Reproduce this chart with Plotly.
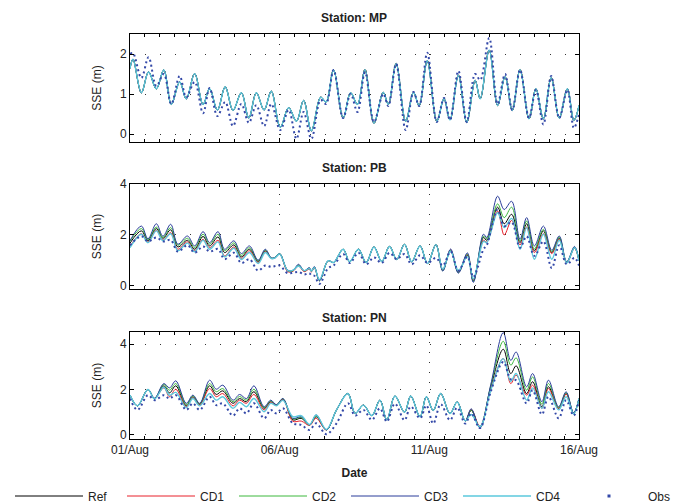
import plotly.graph_objects as go

# ---------------- data (time in days since 01/Aug 00:00) ----------------
tick_days = [0, 5, 10, 15]
tick_labels = ["01/Aug", "06/Aug", "11/Aug", "16/Aug"]
series_names = ["Ref", "CD1", "CD2", "CD3", "CD4"]

# Station MP (all model runs overlap)
mp_t = [0, 0.1, 0.38, 0.62, 0.88, 1.13, 1.38, 1.66, 1.88, 2.16, 2.44, 2.66, 2.92, 3.18, 3.44,
        3.72, 3.97, 4.22, 4.48, 4.72, 5.02, 5.30, 5.56, 5.80, 6.06, 6.37, 6.55, 6.80, 7.12,
        7.37, 7.60, 7.85, 8.15, 8.46, 8.63, 8.89, 9.21, 9.47, 9.66, 9.93, 10.25, 10.49, 10.69,
        10.97, 11.25, 11.53, 11.70, 12.0, 12.28, 12.53, 12.77, 13.03, 13.33, 13.56, 13.81,
        14.07, 14.34, 14.61, 14.83, 15.0]
mp_model = [1.64, 1.87, 1.03, 1.55, 1.13, 1.6, 0.74, 1.3, 0.88, 1.51, 0.74, 1.13, 0.6, 1.18, 0.59,
            1.03, 0.4, 1.03, 0.6, 1.07, 0.17, 0.66, 0.32, 0.84, 0.08, 0.92, 0.8, 1.6, 0.4,
            1.03, 0.74, 1.61, 0.27, 1.04, 0.74, 1.76, 0.32, 1.04, 0.71, 1.83, 0.32, 0.88, 0.35,
            1.47, 0.29, 1.34, 0.88, 2.1, 0.71, 1.43, 0.59, 1.61, 0.38, 1.13, 0.38,
            1.41, 0.4, 1.13, 0.34, 0.71]
mp_obs = [2.0, 2.02, 1.4, 1.92, 1.2, 1.5, 0.75, 1.45, 0.92, 1.3, 0.52, 1.15, 0.45, 0.8, 0.2,
          0.75, 0.28, 0.72, 0.2, 0.75, 0.1, 0.6, -0.12, 0.55, -0.12, 0.85, 0.75, 1.6, 0.4,
          1.0, 0.55, 1.55, 0.3, 1.0, 0.7, 1.75, 0.1, 1.05, 0.7, 2.03, 0.3, 0.9, 0.35,
          1.58, 0.3, 1.5, 1.35, 2.4, 0.75, 1.5, 0.6, 1.6, 0.4, 1.1, 0.24,
          1.45, 0.4, 1.1, 0.15, 0.5]

# Station PB
pb_t = [0, 0.38, 0.6, 0.88, 1.1, 1.36, 1.6, 1.92, 2.16, 2.44, 2.66, 2.94, 3.16, 3.47, 3.72,
        3.99, 4.28, 4.52, 4.72, 4.85, 5.0, 5.27, 5.45, 5.63, 5.82, 5.99, 6.06, 6.16, 6.33, 6.62,
        6.8, 7.12, 7.34, 7.63, 7.89, 8.15, 8.41, 8.67, 8.91, 9.17, 9.41, 9.69, 9.94, 10.22, 10.45,
        10.71, 10.97, 11.27, 11.47, 11.81, 11.92, 12.28, 12.5, 12.75, 13.03, 13.25, 13.51, 13.81,
        14.09, 14.34, 14.59, 14.85, 15.0]
pb_ref = [1.68, 2.16, 1.78, 2.25, 1.87, 2.2, 1.53, 1.79, 1.44, 1.94, 1.57, 1.92, 1.31, 1.61, 1.14,
          1.44, 0.96, 1.38, 1.09, 1.12, 1.27, 0.58, 0.6, 0.8, 0.58, 0.68, 0.57, 0.72, 0.21, 0.99,
          0.92, 1.44, 0.95, 1.44, 0.92, 1.53, 0.96, 1.55, 1.04, 1.63, 0.95, 1.57, 0.88, 1.62, 0.62,
          1.38, 0.54, 1.2, 0.2, 1.9, 1.79, 3.09, 2.44, 2.81, 1.7, 2.44, 1.38, 2.16,
          1.31, 1.87, 0.92, 1.5, 0.99]
pb_cd1 = [1.55, 2.05, 1.72, 2.18, 1.8, 2.09, 1.44, 1.73, 1.38, 1.83, 1.5, 1.79, 1.18, 1.53, 1.08,
          1.38, 0.92, 1.35, 1.08, 1.1, 1.25, 0.56, 0.58, 0.78, 0.56, 0.66, 0.55, 0.7, 0.22, 0.99,
          0.92, 1.44, 0.95, 1.44, 0.92, 1.53, 0.96, 1.55, 1.04, 1.63, 0.95, 1.57, 0.88, 1.62, 0.64,
          1.42, 0.56, 1.24, 0.24, 1.8, 1.72, 2.94, 2.0, 2.57, 1.61, 2.31, 1.31, 2.05,
          1.27, 1.83, 0.9, 1.48, 0.98]
pb_cd2 = [1.75, 2.25, 1.82, 2.31, 1.9, 2.29, 1.6, 1.87, 1.5, 2.03, 1.64, 2.03, 1.38, 1.69, 1.2,
          1.5, 0.98, 1.41, 1.09, 1.12, 1.27, 0.6, 0.6, 0.82, 0.59, 0.7, 0.58, 0.74, 0.2, 0.99,
          0.92, 1.44, 0.95, 1.44, 0.92, 1.53, 0.96, 1.55, 1.04, 1.63, 0.95, 1.57, 0.88, 1.62, 0.6,
          1.4, 0.53, 1.25, 0.18, 1.95, 1.85, 3.22, 2.68, 3.09, 1.76, 2.55, 1.45, 2.22,
          1.35, 1.92, 0.93, 1.52, 1.0]
pb_cd3 = [1.78, 2.35, 1.85, 2.44, 1.95, 2.42, 1.64, 1.96, 1.57, 2.13, 1.7, 2.13, 1.44, 1.77, 1.27,
          1.57, 1.01, 1.44, 1.1, 1.12, 1.27, 0.62, 0.62, 0.85, 0.6, 0.72, 0.6, 0.76, 0.2, 0.99,
          0.92, 1.44, 0.95, 1.44, 0.92, 1.53, 0.96, 1.55, 1.04, 1.63, 0.95, 1.57, 0.88, 1.62, 0.58,
          1.45, 0.5, 1.3, 0.14, 2.03, 1.9, 3.52, 3.0, 3.32, 1.83, 2.68, 1.57, 2.35,
          1.4, 1.96, 0.95, 1.55, 1.0]
pb_cd4 = [1.5, 2.03, 1.7, 2.16, 1.78, 2.05, 1.38, 1.68, 1.34, 1.79, 1.44, 1.73, 1.14, 1.48, 1.04,
          1.31, 0.88, 1.31, 1.07, 1.1, 1.25, 0.6, 0.62, 0.78, 0.6, 0.68, 0.58, 0.72, 0.25, 0.99,
          0.92, 1.44, 0.95, 1.44, 0.92, 1.53, 0.96, 1.55, 1.04, 1.63, 0.95, 1.57, 0.88, 1.62, 0.66,
          1.36, 0.6, 1.15, 0.28, 1.75, 1.7, 2.87, 2.29, 2.65, 1.44, 2.29, 1.05, 2.03,
          1.05, 1.79, 0.9, 1.5, 0.98]
pb_obs = [1.6, 1.95, 1.75, 1.9, 1.75, 1.8, 1.35, 1.6, 1.3, 1.55, 1.35, 1.45, 1.05, 1.3, 0.9,
          1.05, 0.6, 0.8, 0.75, 0.78, 0.8, 0.5, 0.52, 0.55, 0.45, 0.5, 0.42, 0.4, 0.08, 0.7,
          0.8, 1.25, 0.9, 1.3, 0.85, 1.12, 0.9, 1.3, 1.05, 1.25, 0.85, 1.2, 0.9, 1.1, 0.8,
          1.35, 0.6, 1.15, 0.35, 1.44, 1.6, 3.0, 2.35, 2.5, 1.5, 1.95, 1.18, 1.75,
          0.7, 1.6, 0.85, 1.1, 0.8]

# Station PN
pn_t = [0, 0.25, 0.6, 0.82, 1.13, 1.32, 1.53, 1.88, 2.1, 2.33, 2.66, 2.88, 3.1, 3.44, 3.66,
        3.89, 4.14, 4.48, 4.7, 4.89, 5.11, 5.44, 5.72, 6.0, 6.22, 6.56, 6.9, 7.28, 7.52, 7.8,
        8.08, 8.35, 8.58, 8.85, 9.17, 9.38, 9.69, 9.9, 10.13, 10.38, 10.69, 10.93, 11.2, 11.4,
        11.69, 12.05, 12.47, 12.72, 12.9, 13.25, 13.45, 13.76, 13.98, 14.32, 14.57, 14.82, 15.0]
pn_ref = [1.75, 1.28, 2.0, 1.6, 2.16, 1.85, 2.16, 1.28, 1.68, 1.34, 2.16, 1.78, 1.94, 1.39, 1.6,
          1.46, 1.9, 1.17, 1.46, 1.31, 1.58, 0.66, 0.73, 0.44, 0.8, 0.22, 1.1, 1.82, 0.95, 1.31,
          0.85, 1.53, 0.66, 1.71, 1.0, 1.71, 0.8, 1.68, 1.08, 1.82, 0.94, 1.45, 0.62, 1.08,
          0.35, 2.1, 3.77, 2.7, 3.04, 1.82, 2.34, 1.24, 2.12, 1.17, 1.82, 0.95, 1.6]
pn_cd1 = [1.75, 1.28, 2.0, 1.6, 2.07, 1.68, 2.01, 1.24, 1.63, 1.32, 2.04, 1.68, 1.82, 1.28, 1.53,
          1.39, 1.78, 1.1, 1.44, 1.3, 1.56, 0.6, 0.61, 0.42, 0.73, 0.22, 1.1, 1.82, 0.95, 1.31,
          0.85, 1.53, 0.66, 1.71, 1.0, 1.71, 0.8, 1.68, 1.08, 1.82, 0.94, 1.45, 0.62, 1.12,
          0.38, 2.0, 3.36, 2.26, 2.63, 1.75, 2.19, 1.17, 2.04, 1.15, 1.8, 0.94, 1.6]
pn_cd2 = [1.75, 1.28, 2.0, 1.61, 2.22, 1.97, 2.26, 1.33, 1.72, 1.37, 2.26, 1.9, 2.04, 1.46, 1.69,
          1.53, 2.01, 1.2, 1.5, 1.32, 1.59, 0.7, 0.77, 0.44, 0.84, 0.22, 1.1, 1.82, 0.95, 1.31,
          0.85, 1.53, 0.66, 1.71, 1.0, 1.71, 0.8, 1.68, 1.08, 1.82, 0.94, 1.45, 0.62, 1.1,
          0.33, 2.15, 4.12, 3.07, 3.39, 1.97, 2.55, 1.35, 2.26, 1.2, 1.86, 0.96, 1.6]
pn_cd3 = [1.75, 1.28, 2.0, 1.62, 2.26, 2.07, 2.38, 1.39, 1.75, 1.39, 2.41, 2.01, 2.19, 1.53, 1.78,
          1.6, 2.16, 1.24, 1.53, 1.33, 1.6, 0.73, 0.8, 0.44, 0.88, 0.22, 1.1, 1.82, 0.95, 1.31,
          0.85, 1.53, 0.66, 1.71, 1.0, 1.71, 0.8, 1.68, 1.08, 1.82, 0.94, 1.45, 0.62, 1.15,
          0.3, 2.2, 4.5, 3.28, 3.65, 2.12, 2.7, 1.46, 2.41, 1.24, 1.9, 0.97, 1.6]
pn_cd4 = [1.75, 1.28, 2.0, 1.58, 2.1, 1.75, 1.87, 1.2, 1.6, 1.28, 1.82, 1.53, 1.68, 1.17, 1.43,
          1.24, 1.6, 1.02, 1.39, 1.28, 1.52, 0.8, 0.85, 0.46, 0.88, 0.24, 1.1, 1.82, 0.95, 1.31,
          0.85, 1.53, 0.66, 1.71, 1.0, 1.71, 0.8, 1.68, 1.08, 1.82, 0.94, 1.45, 0.62, 0.9,
          0.36, 1.95, 3.36, 2.36, 2.7, 1.53, 2.07, 1.17, 1.9, 1.1, 1.68, 0.92, 1.6]
pn_obs = [1.6, 1.1, 1.75, 1.53, 1.75, 1.6, 1.75, 1.1, 1.39, 1.1, 1.68, 1.31, 1.39, 0.85, 1.17,
          0.95, 1.39, 0.73, 1.1, 0.95, 1.17, 0.51, 0.44, 0.22, 0.51, 0.03, 0.51, 1.39, 0.85, 1.1,
          0.66, 1.17, 0.58, 1.38, 0.65, 1.25, 0.73, 1.3, 0.5, 1.35, 0.65, 1.2, 0.5, 0.95,
          0.3, 1.9, 3.21, 2.45, 2.4, 1.39, 1.97, 0.9, 1.68, 0.73, 1.53, 0.85, 1.53]

stations = [
    ("MP", mp_t, [mp_model, mp_model, mp_model, mp_model, mp_model], mp_obs),
    ("PB", pb_t, [pb_ref, pb_cd1, pb_cd2, pb_cd3, pb_cd4], pb_obs),
    ("PN", pn_t, [pn_ref, pn_cd1, pn_cd2, pn_cd3, pn_cd4], pn_obs),
]

# ---------------- style ----------------
W, H = 697, 504
colors = ["#000000", "#e8202a", "#3cb83c", "#2a3d9a", "#5bc8dc"]
widths = [1.0, 1.0, 1.0, 1.0, 1.4]
obs_color = "#3348a8"
FONT = "Liberation Sans, Arial, sans-serif"

x0, x1 = 130 / W, 579 / W
panels_px = [(34, 142), (184, 289), (332, 439)]
yranges = [[-0.2, 2.5], [-0.12, 4.0], [-0.18, 4.53]]
ydticks = [1, 2, 2]
title_y_px = [18, 168, 318]

fig = go.Figure()

for i, (name, t, models, obs) in enumerate(stations):
    xa = "x" if i == 0 else f"x{i+1}"
    ya = "y" if i == 0 else f"y{i+1}"
    for j, vals in enumerate(models):
        fig.add_trace(go.Scatter(
            x=t, y=vals, mode="lines", xaxis=xa, yaxis=ya,
            line=dict(color=colors[j], width=widths[j], shape="spline", smoothing=1.0),
            name=series_names[j], legendgroup=series_names[j], showlegend=(i == 0)))
    fig.add_trace(go.Scatter(
        x=t, y=obs, mode="lines", xaxis=xa, yaxis=ya,
        line=dict(color=obs_color, width=2, dash="2px,3px", shape="spline", smoothing=1.0),
        name="Obs", legendgroup="Obs", showlegend=False))

# legend entry for observations (single dot)
fig.add_trace(go.Scatter(x=[None], y=[None], mode="markers", name="Obs", legendgroup="Obs",
                         marker=dict(color=obs_color, size=3, symbol="square")))

layout = dict(
    width=W, height=H, margin=dict(l=0, r=0, t=0, b=0, autoexpand=False),
    paper_bgcolor="white", plot_bgcolor="white",
    font=dict(family=FONT, size=11, color="#222222"),
    showlegend=True,
    legend=dict(orientation="h", x=10 / W, xanchor="left", y=1 - 496 / H, yanchor="middle",
                entrywidth=29, entrywidthmode="pixels", itemwidth=68, tracegroupgap=0,
                font=dict(size=12, color="#222222"), bgcolor="rgba(0,0,0,0)"),
)

annotations = []
for i in range(3):
    top, bot = panels_px[i]
    sx = "" if i == 0 else str(i + 1)
    layout["xaxis" + sx] = dict(
        domain=[x0, x1], anchor="y" + sx, range=[0, 15],
        tickmode="array", tickvals=tick_days, ticktext=tick_labels,
        showticklabels=(i == 2), ticks="inside", ticklen=4, tickcolor="black",
        showline=True, linecolor="black", linewidth=1, mirror="ticks",
        showgrid=True, gridcolor="#333333", gridwidth=1, griddash="1px,9px",
        zeroline=False, tickfont=dict(size=12),
        minor=dict(tickmode="linear", tick0=0, dtick=0.5, ticks="inside", ticklen=3,
                   tickcolor="black", showgrid=False),
        title=dict(text="<b>Date</b>", font=dict(size=12), standoff=12) if i == 2 else None,
    )
    layout["yaxis" + sx] = dict(
        domain=[1 - bot / H, 1 - top / H], anchor="x" + sx, range=yranges[i],
        tickmode="linear", tick0=0, dtick=ydticks[i],
        ticks="inside", ticklen=4, tickcolor="black",
        showline=True, linecolor="black", linewidth=1, mirror="ticks",
        showgrid=True, gridcolor="#333333", gridwidth=1, griddash="1px,14px",
        zeroline=False, tickfont=dict(size=12),
        title=dict(text="SSE (m)", font=dict(size=12), standoff=15),
    )
    annotations.append(dict(
        text=f"<b>Station: {stations[i][0]}</b>", xref="paper", yref="paper",
        x=(x0 + x1) / 2, y=1 - title_y_px[i] / H, xanchor="center", yanchor="middle",
        showarrow=False, font=dict(size=12, color="#222222")))

layout["annotations"] = annotations
fig.update_layout(**layout)
fig.write_html("out.html")
